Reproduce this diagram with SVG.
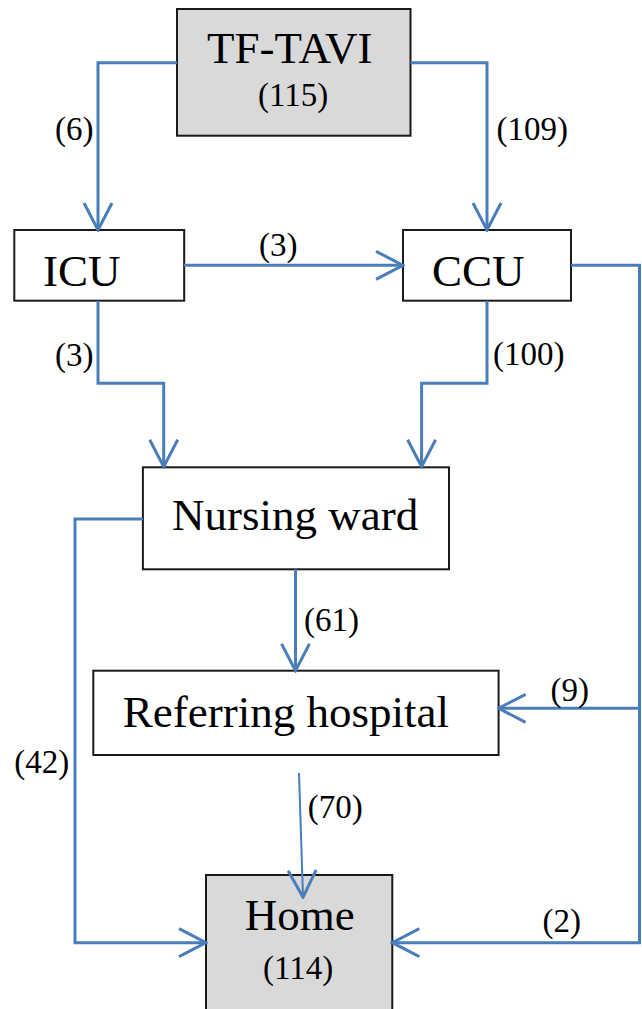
<svg xmlns="http://www.w3.org/2000/svg" width="642" height="1009" viewBox="0 0 642 1009">
<style>
.box{fill:#ffffff;stroke:#1a1a1a;stroke-width:2}
.grey{fill:#d9d9d9}
.big{font-family:"Liberation Serif","Times New Roman",serif;font-size:45px;fill:#000}
.num{font-family:"Liberation Serif","Times New Roman",serif;font-size:33px;fill:#000}
.conn{fill:none;stroke:#4a7ebb;stroke-width:3;marker-end:url(#arr)}
.thin{stroke-width:2}
</style>
<defs>
<marker id="arr" viewBox="-30 -16 32 32" refX="0" refY="0" markerWidth="32" markerHeight="32" markerUnits="userSpaceOnUse" orient="auto">
<path d="M-27,-14 L0,0 L-27,14" fill="none" stroke="#4a7ebb" stroke-width="3"/>
</marker>
</defs>
<rect width="642" height="1009" fill="#ffffff"/>
<g id="tftavi">
<rect class="box grey" x="177" y="9" width="233.5" height="126.7"/>
<text class="big" x="207" y="63">TF-TAVI</text>
<text class="num" x="258" y="106">(115)</text>
</g>
<g id="icu">
<rect class="box" x="14.3" y="230" width="169.9" height="70.7"/>
<text class="big" x="43" y="286">ICU</text>
</g>
<g id="ccu">
<rect class="box" x="403" y="230" width="168" height="70.7"/>
<text class="big" x="432" y="286">CCU</text>
</g>
<g id="nursing">
<rect class="box" x="142.9" y="467.3" width="306.1" height="102"/>
<text class="big" x="172" y="530">Nursing ward</text>
</g>
<g id="referring">
<rect class="box" x="93.3" y="670.7" width="405.3" height="84.3"/>
<text class="big" x="122.8" y="726.7">Referring hospital</text>
</g>
<g id="home">
<rect class="box grey" x="206" y="875" width="186.3" height="150"/>
<text class="big" x="244.8" y="930">Home</text>
<text class="num" x="263" y="979">(114)</text>
</g>
<g id="connectors">
<path class="conn" d="M177,62.7 H98 V230"/>
<path class="conn" d="M410.5,62.7 H487 V230"/>
<path class="conn" d="M184,265.3 H403"/>
<path class="conn" d="M98,300.7 V383.3 H163.7 V466.7"/>
<path class="conn" d="M487,300.7 V383.3 H421.6 V466.7"/>
<path class="conn" d="M295.5,569.3 V670.7"/>
<path class="conn" d="M571,265.3 H639.5 V708.3 H498.6"/>
<path class="conn" d="M639.5,708.3 V942.7 H392.3"/>
<path class="conn" d="M142.9,519 H75 V942.7 H206"/>
<path class="conn thin" d="M299,773 L303,897.3"/>
<text class="num" x="55" y="140">(6)</text>
<text class="num" x="496.5" y="140">(109)</text>
<text class="num" x="259" y="256">(3)</text>
<text class="num" x="55" y="366">(3)</text>
<text class="num" x="493" y="365">(100)</text>
<text class="num" x="304" y="631">(61)</text>
<text class="num" x="550.5" y="701">(9)</text>
<text class="num" x="14.3" y="773">(42)</text>
<text class="num" x="307.8" y="818">(70)</text>
<text class="num" x="542.4" y="932">(2)</text>
</g>
</svg>
